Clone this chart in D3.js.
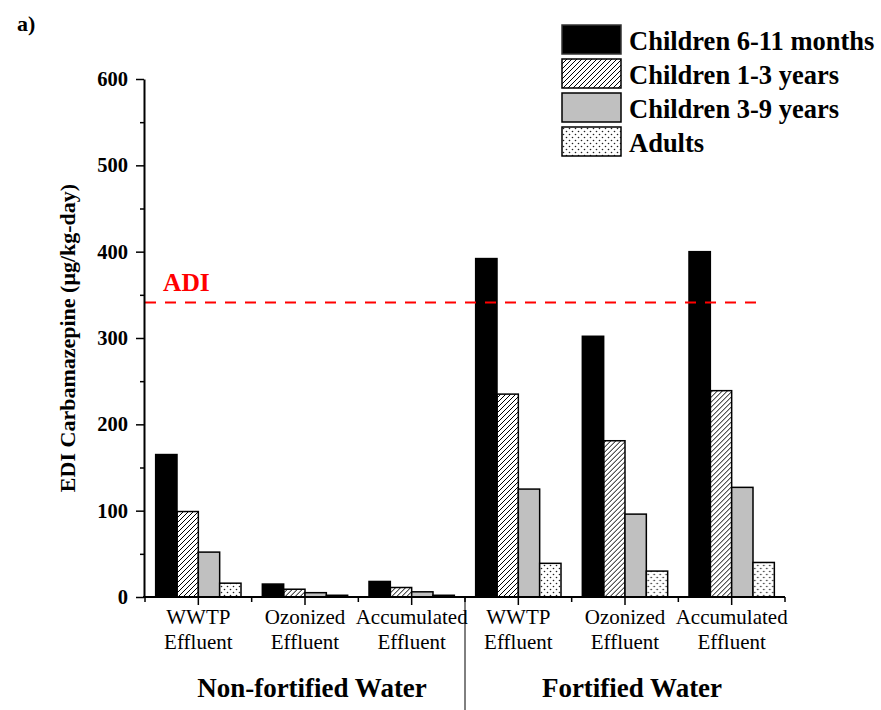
<!DOCTYPE html>
<html>
<head>
<meta charset="utf-8">
<script src="https://cdn.jsdelivr.net/npm/d3@7"></script>
<style>
	body { margin: 0; background: #fff; }
	svg text { font-family: 'Liberation Serif', 'Times New Roman', serif; }
</style>
</head>
<body>
<div id="chart-container"></div>
<script>
// categories (two lines each) and the two water groups
const categories = ['WWTP|Effluent', 'Ozonized|Effluent', 'Accumulated|Effluent', 'WWTP |Effluent', 'Ozonized |Effluent', 'Accumulated |Effluent'];
const groups = ['Non-fortified Water', 'Fortified Water'];
const seriesNames = ['Children 6-11 months', 'Children 1-3 years', 'Children 3-9 years', 'Adults'];

// EDI values, µg/kg-day
const children6to11m = [165, 15, 18, 392, 302, 400];
const children1to3y = [99, 9, 11, 235, 181, 239];
const children3to9y = [52, 5, 6, 125, 96, 127];
const adults = [16, 2, 2, 39, 30, 40];

const yTicks = [0, 100, 200, 300, 400, 500, 600];
const adiValue = 341;

const width = 881;
const height = 710;
const margin = { left: 145, right: 96, top: 79, bottom: 113 };

const seriesValues = [children6to11m, children1to3y, children3to9y, adults];
const fills = ['#000', 'url(#hatch)', '#c0c0c0', 'url(#dots)'];

const svg = d3.select('#chart-container')
	.append('svg')
	.attr('width', width)
	.attr('height', height);

// fill patterns
const defs = svg.append('defs');
defs.append('pattern')
	.attr('id', 'hatch')
	.attr('patternUnits', 'userSpaceOnUse')
	.attr('width', 5)
	.attr('height', 5)
	.append('path')
	.attr('d', 'M-1,1 L1,-1 M0,5 L5,0 M4,6 L6,4')
	.attr('stroke', '#000')
	.attr('stroke-width', 1);

const dots = defs.append('pattern')
	.attr('id', 'dots')
	.attr('patternUnits', 'userSpaceOnUse')
	.attr('width', 6)
	.attr('height', 6);
dots.append('rect').attr('width', 6).attr('height', 6).attr('fill', '#fff');
dots.append('circle').attr('cx', 1.5).attr('cy', 1.5).attr('r', 0.8).attr('fill', '#222');
dots.append('circle').attr('cx', 4.5).attr('cy', 4.5).attr('r', 0.8).attr('fill', '#222');

const x0 = d3.scaleBand()
	.domain(categories)
	.range([margin.left, width - margin.right]);

const pad = x0.bandwidth() * 0.1;
const x1 = d3.scaleBand()
	.domain(d3.range(seriesNames.length))
	.range([pad, x0.bandwidth() - pad]);

const y = d3.scaleLinear()
	.domain([0, 600])
	.range([height - margin.bottom, margin.top]);

const baseY = y(0);

// bars
const catG = svg.append('g')
	.selectAll('g')
	.data(categories)
	.join('g')
	.attr('transform', (d) => `translate(${x0(d)},0)`);

catG.selectAll('rect')
	.data((d, i) => seriesValues.map((s, k) => ({ k, v: s[i] })))
	.join('rect')
	.attr('x', (d) => x1(d.k))
	.attr('width', x1.bandwidth())
	.attr('y', (d) => y(d.v))
	.attr('height', (d) => baseY - y(d.v))
	.attr('fill', (d) => fills[d.k])
	.attr('stroke', '#000')
	.attr('stroke-width', 1.5);

// ADI line
svg.append('line')
	.attr('x1', margin.left)
	.attr('x2', 765)
	.attr('y1', y(adiValue))
	.attr('y2', y(adiValue))
	.attr('stroke', '#ff0000')
	.attr('stroke-width', 2)
	.attr('stroke-dasharray', '11,9');

svg.append('text')
	.attr('x', 163)
	.attr('y', y(adiValue) - 12)
	.attr('fill', '#ff0000')
	.attr('font-weight', 'bold')
	.attr('font-size', 25.5)
	.text('ADI');

// y axis, minor ticks first
svg.append('g')
	.attr('transform', `translate(${margin.left - 1},0)`)
	.call(d3.axisLeft(y).tickValues(d3.range(50, 600, 100)).tickSize(4).tickFormat(''))
	.call((g) => g.select('.domain').remove())
	.selectAll('line').attr('stroke-width', 1.5);

const yAxis = svg.append('g')
	.attr('transform', `translate(${margin.left - 1},0)`)
	.call(d3.axisLeft(y).tickValues(yTicks).tickSize(8).tickSizeOuter(0).tickPadding(8));

yAxis.select('.domain').attr('stroke-width', 2);
yAxis.selectAll('.tick line').attr('stroke-width', 1.5);
yAxis.selectAll('text')
	.attr('font-size', 20.5)
	.attr('font-weight', 'bold')
	.attr('fill', '#000');

svg.append('text')
	.attr('transform', `translate(75,${(y(0) + y(600)) / 2}) rotate(-90)`)
	.attr('text-anchor', 'middle')
	.attr('font-weight', 'bold')
	.attr('font-size', 22)
	.text('EDI Carbamazepine (μg/kg-day)');

// x axis
svg.append('line')
	.attr('x1', margin.left - 2)
	.attr('x2', width - margin.right)
	.attr('y1', baseY)
	.attr('y2', baseY)
	.attr('stroke', '#000')
	.attr('stroke-width', 2);

const boundaries = categories.map((d) => x0(d)).concat([x0.range()[1]]);
svg.append('g')
	.selectAll('line')
	.data(boundaries)
	.join('line')
	.attr('x1', (d) => d).attr('x2', (d) => d)
	.attr('y1', baseY).attr('y2', baseY + 5)
	.attr('stroke', '#000').attr('stroke-width', 1.5);

svg.append('g')
	.selectAll('line')
	.data(categories)
	.join('line')
	.attr('x1', (d) => x0(d) + x0.bandwidth() / 2)
	.attr('x2', (d) => x0(d) + x0.bandwidth() / 2)
	.attr('y1', baseY).attr('y2', baseY + 8)
	.attr('stroke', '#000').attr('stroke-width', 1.5);

const catLabels = svg.append('g')
	.selectAll('text')
	.data(categories)
	.join('text')
	.attr('text-anchor', 'middle')
	.attr('font-size', 21)
	.attr('x', (d) => x0(d) + x0.bandwidth() / 2);

catLabels.selectAll('tspan')
	.data((d) => d.split('|').map((s) => s.trim()))
	.join('tspan')
	.attr('x', function () { return this.parentNode.getAttribute('x'); })
	.attr('y', (d, i) => baseY + 27 + i * 25)
	.text((d) => d);

// group labels + separator
const half = (x0.range()[1] - x0.range()[0]) / 2;
svg.append('g')
	.selectAll('text')
	.data(groups)
	.join('text')
	.attr('x', (d, i) => margin.left + half * i + half / 2 + 7)
	.attr('y', baseY + 100)
	.attr('text-anchor', 'middle')
	.attr('font-weight', 'bold')
	.attr('font-size', 27)
	.text((d) => d);

svg.append('line')
	.attr('x1', margin.left + half).attr('x2', margin.left + half)
	.attr('y1', baseY).attr('y2', height)
	.attr('stroke', '#000').attr('stroke-width', 1);

// legend
const legend = svg.append('g')
	.selectAll('g')
	.data(seriesNames)
	.join('g')
	.attr('transform', (d, i) => `translate(562,${25 + i * 34})`);

legend.append('rect')
	.attr('width', 59)
	.attr('height', 29)
	.attr('fill', (d, i) => fills[i])
	.attr('stroke', (d, i) => i === 0 ? '#333' : '#000')
	.attr('stroke-width', 1.5);

legend.append('text')
	.attr('x', 67)
	.attr('y', 25)
	.attr('font-weight', 'bold')
	.attr('font-size', 26.5)
	.text((d) => d);

svg.append('text')
	.attr('x', 17)
	.attr('y', 31)
	.attr('font-weight', 'bold')
	.attr('font-size', 22)
	.text('a)');
</script>
</body>
</html>
